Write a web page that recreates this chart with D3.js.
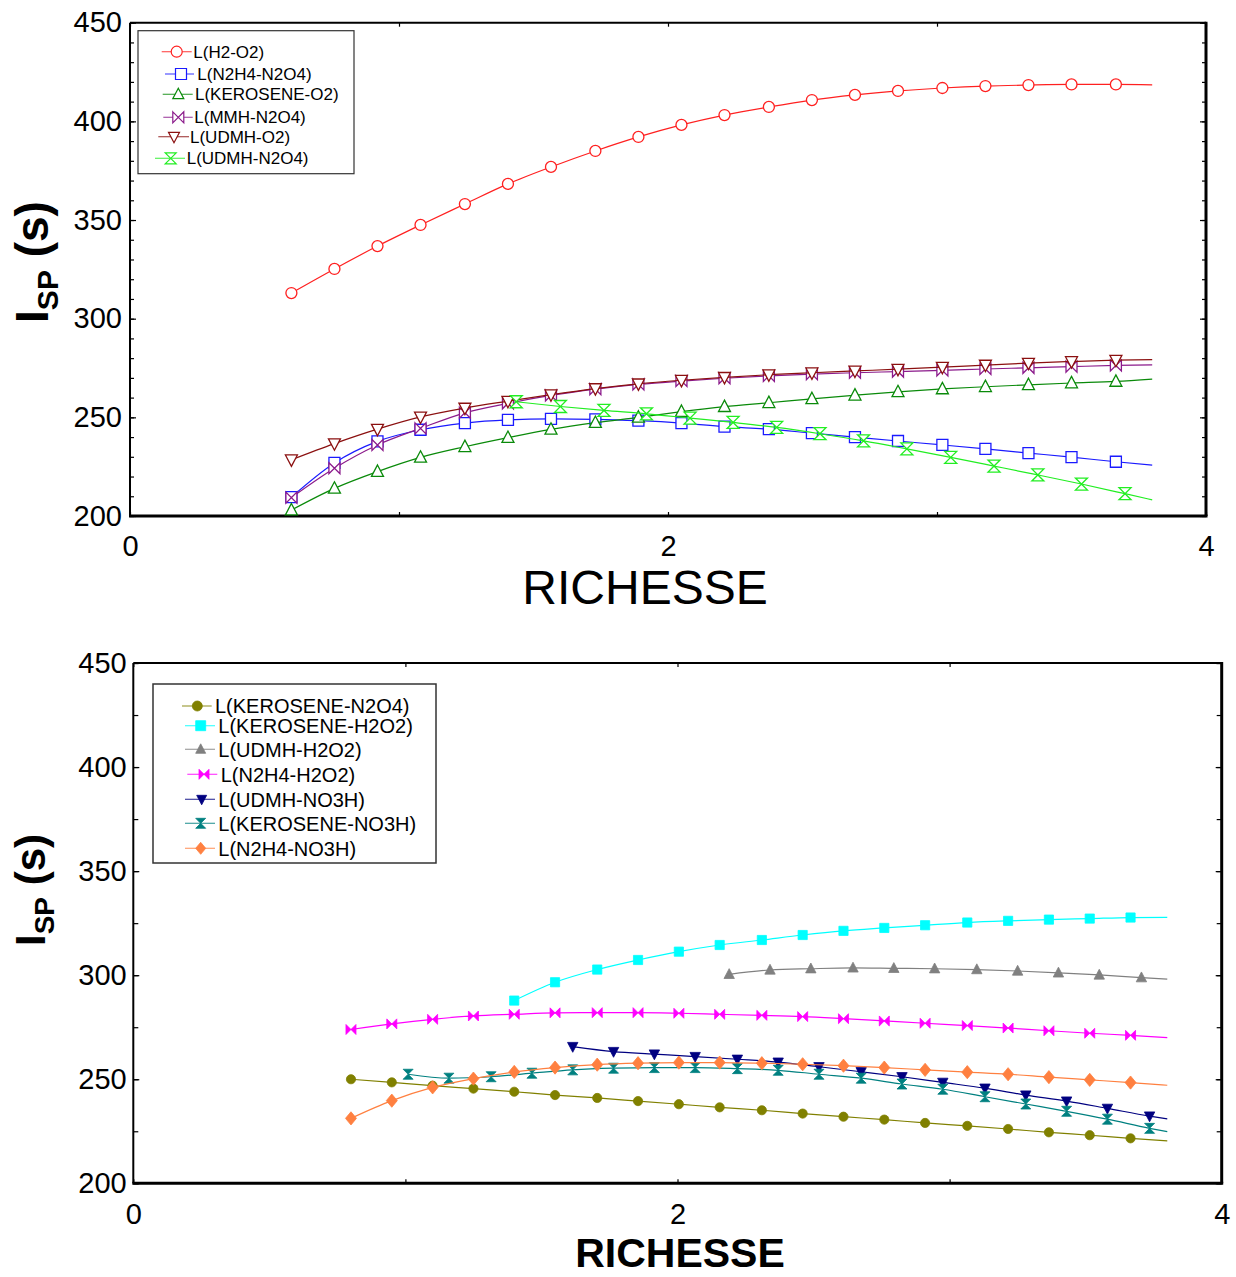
<!DOCTYPE html>
<html>
<head>
<meta charset="utf-8">
<script src="https://cdn.jsdelivr.net/npm/d3@7"></script>
<style>
  html, body { margin: 0; padding: 0; background: #ffffff; }
  svg { display: block; font-family: "Liberation Sans", Arial, sans-serif; }
</style>
</head>
<body>
<svg id="chart" width="1236" height="1277"></svg>
<script>
// ---------- Upper panel: richesse grids and specific impulse (s) ----------
const topGrid = [0.60, 0.76, 0.92, 1.08, 1.245, 1.405, 1.565, 1.73, 1.89, 2.05,
                 2.21, 2.375, 2.535, 2.695, 2.855, 3.02, 3.18, 3.34, 3.50, 3.665, 3.80];
const udmhN2o4Grid = [1.436, 1.60, 1.762, 1.92, 2.082, 2.242, 2.404, 2.565, 2.727,
                      2.888, 3.051, 3.212, 3.375, 3.537, 3.699, 3.80];

const ispH2O2 = [313.0, 325.2, 336.8, 347.5, 358.1, 368.3, 376.9, 385.0, 392.1, 398.2,
                 403.2, 407.3, 410.8, 413.4, 415.4, 416.9, 417.9, 418.4, 418.7, 418.7, 418.5];
const ispN2H4N2O4 = [209.6, 226.9, 237.8, 243.7, 247.1, 248.7, 249.2, 249.0, 248.3, 247.1,
                     245.3, 244.0, 242.0, 240.0, 238.0, 236.0, 234.0, 231.9, 229.8, 227.5, 225.8];
const ispKeroO2 = [203.0, 214.0, 222.5, 229.7, 235.1, 239.7, 243.9, 247.3, 250.0, 252.9,
                   255.4, 257.4, 259.4, 261.2, 262.9, 264.4, 265.5, 266.5, 267.4, 268.2, 269.4];
const ispMmhN2O4 = [209.3, 224.2, 236.0, 244.4, 252.3, 257.1, 261.1, 264.3, 266.7, 268.4,
                    269.8, 271.0, 271.9, 272.6, 273.2, 273.8, 274.5, 275.1, 275.7, 276.3, 276.6];
const ispUdmhO2 = [228.5, 236.7, 244.0, 250.2, 254.7, 258.2, 261.5, 264.6, 267.0, 268.8,
                   270.3, 271.6, 272.6, 273.5, 274.4, 275.4, 276.5, 277.5, 278.3, 279.0, 279.3];
const ispUdmhN2O4 = [257.9, 255.5, 253.5, 251.8, 249.6, 247.4, 244.9, 241.7, 238.1, 234.0,
                     229.7, 225.3, 220.8, 216.2, 211.3, 208.2];

// ---------- Lower panel ----------
const lowGrid = [0.80, 0.95, 1.10, 1.25, 1.40, 1.55, 1.705, 1.855, 2.005, 2.155,
                 2.31, 2.46, 2.61, 2.76, 2.91, 3.065, 3.215, 3.365, 3.515, 3.665, 3.80];
const keroH2o2Grid = [1.40, 1.55, 1.705, 1.855, 2.005, 2.155, 2.31, 2.46, 2.61,
                      2.76, 2.91, 3.065, 3.215, 3.365, 3.515, 3.665, 3.80];
const udmhH2o2Grid = [2.19, 2.34, 2.49, 2.645, 2.795, 2.945, 3.10, 3.25, 3.40, 3.55, 3.705, 3.80];
const no3hGrid = [1.01, 1.16, 1.315, 1.465, 1.615, 1.765, 1.915, 2.065, 2.22, 2.37,
                  2.52, 2.675, 2.825, 2.975, 3.13, 3.28, 3.43, 3.58, 3.735, 3.80];
const udmhNo3hGrid = [1.615, 1.765, 1.915, 2.065, 2.22, 2.37, 2.52, 2.675, 2.825,
                      2.975, 3.13, 3.28, 3.43, 3.58, 3.735, 3.80];

const ispKeroN2O4 = [250.0, 248.5, 246.9, 245.5, 244.0, 242.4, 241.0, 239.5, 238.0, 236.5,
                     235.1, 233.5, 232.0, 230.6, 229.0, 227.6, 226.1, 224.5, 223.1, 221.6, 220.4];
const ispKeroH2O2 = [287.8, 296.6, 302.7, 307.3, 311.3, 314.5, 316.9, 319.3, 321.3,
                     322.7, 324.0, 325.3, 326.1, 326.7, 327.2, 327.7, 327.8];
const ispUdmhH2O2 = [300.4, 302.5, 303.1, 303.5, 303.3, 303.1, 302.7, 302.0, 301.1, 300.1, 298.8, 298.1];
const ispN2H4H2O2 = [273.9, 276.6, 278.8, 280.4, 281.2, 281.9, 282.0, 282.0, 281.7, 281.2,
                     280.7, 280.1, 279.1, 278.0, 276.9, 275.8, 274.6, 273.3, 272.1, 271.1, 270.0];
const ispUdmhNO3H = [265.7, 263.3, 262.1, 260.9, 259.6, 258.2, 256.0, 253.6, 251.2,
                     248.5, 245.7, 242.4, 239.5, 236.0, 232.3, 231.0];
const ispKeroNO3H = [252.4, 250.5, 251.2, 252.9, 254.5, 255.3, 255.6, 255.6, 255.1, 254.3,
                     252.4, 250.5, 247.7, 245.2, 241.6, 238.1, 234.6, 230.8, 226.4, 224.8];
const ispN2H4NO3H = [231.2, 239.7, 246.1, 250.3, 253.5, 255.6, 257.0, 257.7, 258.0, 258.0,
                     257.7, 257.2, 256.5, 255.6, 254.5, 253.4, 252.4, 251.0, 249.7, 248.4, 247.1];

// axis labels
const yMajorTicks = [200, 250, 300, 350, 400, 450];
const xLabelTicks = [0, 2, 4];
const xMinorTicks = [0, 1, 2, 3, 4];
const xTitle = "RICHESSE";

// series definitions (last point of each line carries no marker)
const topSeries = [
  { name: "L(H2-O2)",       x: topGrid,      y: ispH2O2,     color: "#ff2020", shape: "circle" },
  { name: "L(N2H4-N2O4)",   x: topGrid,      y: ispN2H4N2O4, color: "#1a1aff", shape: "square" },
  { name: "L(KEROSENE-O2)", x: topGrid,      y: ispKeroO2,   color: "#0a8a0a", shape: "triUp" },
  { name: "L(MMH-N2O4)",    x: topGrid,      y: ispMmhN2O4,  color: "#8b1a8b", shape: "bowtie" },
  { name: "L(UDMH-O2)",     x: topGrid,      y: ispUdmhO2,   color: "#8b1010", shape: "triDown" },
  { name: "L(UDMH-N2O4)",   x: udmhN2o4Grid, y: ispUdmhN2O4, color: "#22ee22", shape: "hourglass" }
];
const lowSeries = [
  { name: "L(KEROSENE-N2O4)", x: lowGrid,      y: ispKeroN2O4, color: "#808000", shape: "circle" },
  { name: "L(KEROSENE-H2O2)", x: keroH2o2Grid, y: ispKeroH2O2, color: "#00ffff", shape: "square" },
  { name: "L(UDMH-H2O2)",     x: udmhH2o2Grid, y: ispUdmhH2O2, color: "#808080", shape: "triUp" },
  { name: "L(N2H4-H2O2)",     x: lowGrid,      y: ispN2H4H2O2, color: "#ff00ff", shape: "bowtie" },
  { name: "L(UDMH-NO3H)",     x: udmhNo3hGrid, y: ispUdmhNO3H, color: "#000080", shape: "triDown" },
  { name: "L(KEROSENE-NO3H)", x: no3hGrid,     y: ispKeroNO3H, color: "#008080", shape: "hourglass" },
  { name: "L(N2H4-NO3H)",     x: lowGrid,      y: ispN2H4NO3H, color: "#ff8040", shape: "diamond" }
];

// ---------- drawing helpers ----------
function markerPath(shape, r) {
  switch (shape) {
    case "circle":    return `M${-r},0a${r},${r} 0 1,0 ${2*r},0a${r},${r} 0 1,0 ${-2*r},0Z`;
    case "square":    return `M${-r},${-r}H${r}V${r}H${-r}Z`;
    case "triUp":     return `M0,${-r*1.1}L${r},${r*0.8}L${-r},${r*0.8}Z`;
    case "triDown":   return `M0,${r*1.1}L${r},${-r*0.8}L${-r},${-r*0.8}Z`;
    case "bowtie":    return `M${-r},${-r}L${r},${r}V${-r}L${-r},${r}Z`;
    case "hourglass": return `M${-r},${-r}H${r}L${-r},${r}H${r}Z`;
    case "diamond":   return `M0,${-r*1.2}L${r},0L0,${r*1.2}L${-r},0Z`;
  }
}

const svg = d3.select("#chart");

function drawPanel(cfg) {
  const x = d3.scaleLinear().domain([0, 4]).range([cfg.left, cfg.right]);
  const y = d3.scaleLinear().domain([200, 450]).range([cfg.bottom, cfg.top]);
  const g = svg.append("g");

  // ticks on all four sides, pointing inward
  const yMinor = d3.range(200, 451, cfg.yMinorStep);
  g.append("g").attr("transform", `translate(${cfg.left},0)`)
    .call(d3.axisLeft(y).tickValues(yMinor).tickSize(-cfg.minorLen).tickFormat(""));
  g.append("g").attr("transform", `translate(${cfg.right},0)`)
    .call(d3.axisRight(y).tickValues(yMinor).tickSize(-cfg.minorLen).tickFormat(""));
  g.append("g").attr("transform", `translate(${cfg.left},0)`)
    .call(d3.axisLeft(y).tickValues(yMajorTicks).tickSize(-6).tickPadding(cfg.yPad).tickFormat(d3.format("d")));
  g.append("g").attr("transform", `translate(${cfg.right},0)`)
    .call(d3.axisRight(y).tickValues(yMajorTicks).tickSize(-6).tickFormat(""));
  g.append("g").attr("transform", `translate(0,${cfg.bottom})`)
    .call(d3.axisBottom(x).tickValues(xMinorTicks).tickSize(-4).tickFormat(""));
  g.append("g").attr("transform", `translate(0,${cfg.top})`)
    .call(d3.axisTop(x).tickValues(xMinorTicks).tickSize(-4).tickFormat(""));
  g.append("g").attr("transform", `translate(0,${cfg.bottom})`)
    .call(d3.axisBottom(x).tickValues(xLabelTicks).tickSize(0).tickPadding(cfg.xPad).tickFormat(d3.format("d")));

  g.selectAll(".domain").remove();
  g.selectAll(".tick line").attr("stroke", "#000").attr("stroke-width", 1.2);
  g.selectAll(".tick text").attr("fill", "#000").attr("font-size", 29)
    .attr("font-family", "'Liberation Sans', Arial, sans-serif");

  // plot frame (heavier on the bottom and right edges)
  g.append("line").attr("x1", cfg.left).attr("x2", cfg.right).attr("y1", cfg.top).attr("y2", cfg.top)
    .attr("stroke", "#000").attr("stroke-width", 2);
  g.append("line").attr("x1", cfg.left).attr("x2", cfg.left).attr("y1", cfg.top).attr("y2", cfg.bottom)
    .attr("stroke", "#000").attr("stroke-width", 2);
  g.append("line").attr("x1", cfg.left - 1).attr("x2", cfg.right + 1.5).attr("y1", cfg.bottom).attr("y2", cfg.bottom)
    .attr("stroke", "#000").attr("stroke-width", 3);
  g.append("line").attr("x1", cfg.right).attr("x2", cfg.right).attr("y1", cfg.top - 1).attr("y2", cfg.bottom)
    .attr("stroke", "#000").attr("stroke-width", 3);

  // series lines and markers
  const line = d3.line().curve(d3.curveMonotoneX);
  cfg.series.forEach(s => {
    const pts = s.x.map((xv, i) => [x(xv), y(s.y[i])]);
    g.append("path").attr("d", line(pts)).attr("fill", "none")
      .attr("stroke", s.color).attr("stroke-width", 1.2);
    g.selectAll(null).data(pts.slice(0, -1)).enter().append("path")
      .attr("transform", d => `translate(${d[0]},${d[1]})`)
      .attr("d", markerPath(s.shape, cfg.markerSize[s.shape]))
      .attr("fill", cfg.filled ? s.color : "#ffffff")
      .attr("stroke", s.color).attr("stroke-width", cfg.filled ? 0.8 : 1.3);
  });

  // legend
  const lg = g.append("g");
  lg.append("rect").attr("x", cfg.legend.x).attr("y", cfg.legend.y)
    .attr("width", cfg.legend.w).attr("height", cfg.legend.h)
    .attr("fill", "#ffffff").attr("stroke", "#333").attr("stroke-width", cfg.legend.stroke);
  cfg.series.forEach((s, i) => {
    const L = cfg.legend.rows[i];
    lg.append("line").attr("x1", L.x0).attr("x2", L.x1).attr("y1", L.y).attr("y2", L.y)
      .attr("stroke", s.color).attr("stroke-width", 1.2).attr("stroke-opacity", 0.75);
    lg.append("path").attr("transform", `translate(${L.mx},${L.y})`)
      .attr("d", markerPath(s.shape, cfg.legend.marker))
      .attr("fill", cfg.filled ? s.color : "#ffffff")
      .attr("stroke", s.color).attr("stroke-width", cfg.filled ? 0.8 : 1.2);
    lg.append("text").attr("x", L.tx).attr("y", L.y).attr("dy", "0.36em")
      .attr("font-size", cfg.legend.font).attr("fill", "#000").text(s.name);
  });

  // axis titles
  g.append("text").attr("x", cfg.xTitle.x).attr("y", cfg.xTitle.y)
    .attr("text-anchor", "middle").attr("font-size", cfg.xTitle.size)
    .attr("font-weight", cfg.xTitle.weight).attr("fill", "#000").text(xTitle);

  const yt = g.append("text")
    .attr("transform", `translate(${cfg.yTitle.x},${cfg.yTitle.y}) rotate(-90)`)
    .attr("text-anchor", "middle").attr("font-weight", "bold").attr("fill", "#000")
    .attr("font-size", cfg.yTitle.size);
  yt.append("tspan").text("I");
  yt.append("tspan").attr("font-size", cfg.yTitle.sub).attr("dy", cfg.yTitle.shift).text("SP");
  yt.append("tspan").attr("dy", -cfg.yTitle.shift).text(" (s)");
}

drawPanel({
  left: 130, right: 1206, top: 22.7, bottom: 516,
  yMinorStep: 10, minorLen: 4, yPad: 8, xPad: 19,
  series: topSeries, filled: false,
  markerSize: { circle: 5.5, square: 5.5, triUp: 6, triDown: 6, bowtie: 5.5, hourglass: 6 },
  legend: {
    x: 138, y: 30.7, w: 216, h: 143, stroke: 1.2, marker: 5.5, font: 17,
    rows: [
      { y: 51.7,  x0: 161.7, x1: 191.7, mx: 176.7, tx: 193.3 },
      { y: 74.0,  x0: 165.0, x1: 194.0, mx: 181.0, tx: 197.3 },
      { y: 94.3,  x0: 162.7, x1: 192.7, mx: 178.3, tx: 195.0 },
      { y: 117.3, x0: 163.3, x1: 192.7, mx: 178.3, tx: 194.3 },
      { y: 136.7, x0: 158.3, x1: 189.0, mx: 174.0, tx: 190.0 },
      { y: 158.3, x0: 155.0, x1: 185.0, mx: 170.7, tx: 186.7 }
    ]
  },
  xTitle: { x: 645, y: 604, size: 48, weight: "normal" },
  yTitle: { x: 48, y: 262, size: 46, sub: 30, shift: 10 }
});

drawPanel({
  left: 133.3, right: 1221.7, top: 663, bottom: 1183.3,
  yMinorStep: 25, minorLen: 5, yPad: 6.6, xPad: 20,
  series: lowSeries, filled: true,
  markerSize: { circle: 4.6, square: 4.6, triUp: 5.2, triDown: 5.2, bowtie: 5, hourglass: 5, diamond: 5.5 },
  legend: {
    x: 153, y: 684, w: 283, h: 179, stroke: 1.5, marker: 5, font: 20,
    rows: [
      { y: 706.0, x0: 182.0, x1: 211.7, mx: 197.3, tx: 215.0 },
      { y: 725.7, x0: 185.0, x1: 215.0, mx: 200.7, tx: 218.3 },
      { y: 749.3, x0: 185.0, x1: 215.0, mx: 200.7, tx: 218.3 },
      { y: 774.3, x0: 187.3, x1: 217.3, mx: 204.0, tx: 220.7 },
      { y: 799.3, x0: 185.0, x1: 215.0, mx: 201.7, tx: 218.3 },
      { y: 823.3, x0: 185.0, x1: 215.0, mx: 200.7, tx: 218.3 },
      { y: 848.3, x0: 185.0, x1: 215.0, mx: 200.7, tx: 218.3 }
    ]
  },
  xTitle: { x: 680, y: 1267, size: 41, weight: "bold" },
  yTitle: { x: 45, y: 890, size: 42, sub: 28, shift: 9 }
});
</script>
</body>
</html>
